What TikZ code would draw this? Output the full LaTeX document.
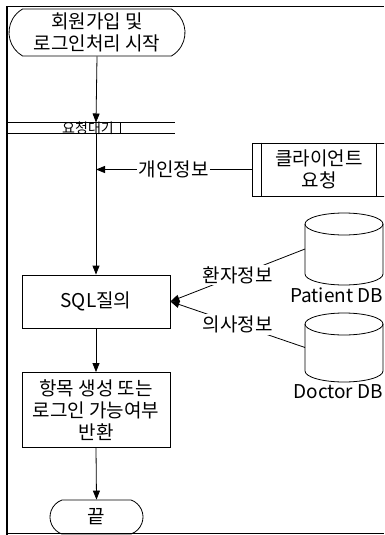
\documentclass[tikz,border=0pt]{standalone}
\usepackage{fontspec}
\setmainfont{Noto Sans CJK KR}
\usetikzlibrary{arrows.meta,shapes.misc}

% database drum: #1 name of the side anchor, #2 centre x, #3 top y, #4 bottom y
\newcommand{\dbdrum}[4]{%
  \draw (#2,#3+11) ellipse[x radius=39, y radius=11];
  \draw (#2-39,#3+11) -- (#2-39,#4-11)
        arc[start angle=180, end angle=0, x radius=39, y radius=11]
        -- (#2+39,#3+11);
  \coordinate (#1) at (#2-39,{(#3+#4)/2});
}

\begin{document}
\begin{tikzpicture}[x=1pt,y=-1pt,
  line width=0.8pt,
  flow/.style={-{Triangle[length=9pt,width=7pt]}},
  txt/.style={font=\fontsize{19}{22}\selectfont, align=center, inner sep=0pt},
  proc/.style={draw, rectangle, txt, minimum width=148pt},
  term/.style={draw, rounded rectangle, txt},
  lbl/.style={txt, fill=white, inner sep=1.5pt},
  dblabel/.style={txt, anchor=north east},
]
\useasboundingbox (0,0) rectangle (384,535);
\clip (0,0) rectangle (384,535);

% outer frame
\draw[line width=1.1pt] (7,535) -- (7,6.5) -- (384,6.5);
\draw[line width=1.1pt] (7,533.5) -- (384,533.5);

% start / end terminals
\node[term, rounded rectangle arc length=120, minimum width=176pt, minimum height=47pt]
  (start) at (97,32.5) {회원가입 및\\로그인처리 시작};
\node[term, rounded rectangle arc length=140, minimum width=93pt, minimum height=34pt]
  (finish) at (96.5,517) {끝};

% waiting lane
\coordinate (tap) at (96,0);
\coordinate (w1a) at (7,122.5);  \coordinate (w1b) at (175,122.5);
\coordinate (w2a) at (7,133.5);  \coordinate (w2b) at (175,133.5);
\node[font=\fontsize{14}{14}\selectfont, inner sep=0pt] (wait) at (88,128.5) {요청대기};
\draw (w1a) -- (w1b);
\draw (w2a) -- (w2b);
\coordinate (tickT) at (120,123); \coordinate (tickB) at (120,133);
\draw[line width=0.6pt] (tickT) -- (tickB);

% process boxes
\node[proc, minimum height=53pt] (sql) at (96,301.5) {SQL질의};
\node[proc, minimum height=75pt] (result) at (96,410) {항목 생성 또는\\로그인 가능여부\\반환};

% client request (predefined process)
\node[draw, rectangle, txt, minimum width=134pt, minimum height=53pt] (client) at (319,169.5) {클라이언트\\요청};
\draw ([xshift=10pt]client.north west) -- ([xshift=10pt]client.south west);
\draw ([xshift=-10pt]client.north east) -- ([xshift=-10pt]client.south east);

% databases
\dbdrum{pdb}{344}{213}{285}
\node[dblabel] (pdbl) at (383.5,287) {Patient DB};
\dbdrum{ddb}{344}{313}{382}
\node[dblabel] (ddbl) at (383.5,384) {Doctor DB};

% main flow
\draw[flow] (start.south) -- (w1a -| tap);
\draw[flow] (w2a -| tap) -- (sql.north);
\draw[flow] (sql.south) -- (result.north);
\draw[flow] (result.south) -- (finish.north);

% inputs
\draw[flow] (client.west) -- node[lbl] {개인정보} (client.west -| tap);
\draw[flow] (pdb) -- node[lbl] {환자정보} (sql.east);
\draw[flow] (ddb) -- node[lbl] {의사정보} (sql.east);
\end{tikzpicture}
\end{document}
